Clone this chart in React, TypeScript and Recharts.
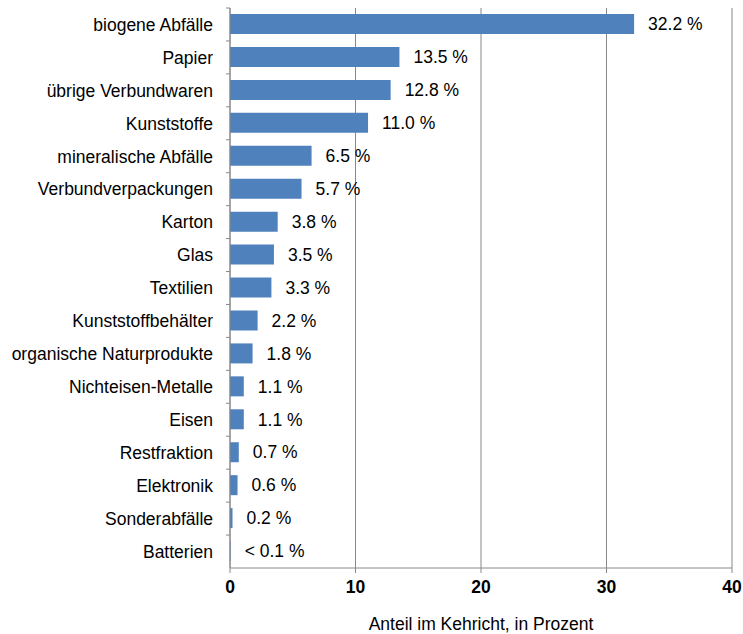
import React from 'react';
import {
  BarChart,
  Bar,
  XAxis,
  YAxis,
  CartesianGrid,
  LabelList,
} from 'recharts';

const categories = [
  'biogene Abfälle',
  'Papier',
  'übrige Verbundwaren',
  'Kunststoffe',
  'mineralische Abfälle',
  'Verbundverpackungen',
  'Karton',
  'Glas',
  'Textilien',
  'Kunststoffbehälter',
  'organische Naturprodukte',
  'Nichteisen-Metalle',
  'Eisen',
  'Restfraktion',
  'Elektronik',
  'Sonderabfälle',
  'Batterien',
];

const shares = [32.2, 13.5, 12.8, 11.0, 6.5, 5.7, 3.8, 3.5, 3.3, 2.2, 1.8, 1.1, 1.1, 0.7, 0.6, 0.2, 0.05];

const valueLabels = [
  '32.2 %', '13.5 %', '12.8 %', '11.0 %', '6.5 %', '5.7 %', '3.8 %', '3.5 %', '3.3 %',
  '2.2 %', '1.8 %', '1.1 %', '1.1 %', '0.7 %', '0.6 %', '0.2 %', '< 0.1 %',
];

const xTicks = [0, 10, 20, 30, 40];

const data = categories.map((name, i) => ({ name, value: shares[i], label: valueLabels[i] }));

const FONT = '"Liberation Sans", Arial, Helvetica, sans-serif';
const FS = 17.5;
const AXIS = '#888888';
const TOP = 8;
const BOTTOM = 66;
const HEIGHT = 634;
const BAND = (HEIGHT - TOP - BOTTOM) / categories.length;

// category label plus a tick mark on the band boundary above it
const CategoryTick = (props: any) => {
  const { x, y, payload } = props;
  return (
    <g>
      <line x1={x - 4} x2={x} y1={y - BAND / 2} y2={y - BAND / 2} stroke={AXIS} />
      <text x={x - 17} y={y} dy="0.36em" textAnchor="end" fill="#000" fontSize={FS} fontFamily={FONT}>
        {payload.value}
      </text>
    </g>
  );
};

export default function App() {
  return (
    <div style={{ position: 'absolute', left: 0, top: 0, background: '#fff' }}>
      <BarChart
        width={743}
        height={HEIGHT}
        data={data}
        layout="vertical"
        margin={{ top: TOP, right: 11, left: 0, bottom: 0 }}
        barSize={20}
      >
        <CartesianGrid horizontal={false} stroke={AXIS} strokeWidth={1} />
        <XAxis
          type="number"
          domain={[0, 40]}
          ticks={xTicks}
          axisLine={{ stroke: AXIS }}
          tickLine={{ stroke: AXIS }}
          tickSize={5}
          tickMargin={8}
          height={BOTTOM}
          tick={{ fill: '#000', fontSize: FS, fontWeight: 'bold', fontFamily: FONT }}
          label={{
            value: 'Anteil im Kehricht, in Prozent',
            position: 'insideBottom',
            offset: 4,
            fill: '#000',
            fontSize: FS,
            fontFamily: FONT,
          }}
        />
        <YAxis
          type="category"
          dataKey="name"
          width={230}
          axisLine={{ stroke: AXIS }}
          tickLine={false}
          tickSize={0}
          tickMargin={0}
          interval={0}
          tick={<CategoryTick />}
        />
        <Bar dataKey="value" fill="#4F81BD" isAnimationActive={false}>
          <LabelList
            dataKey="label"
            position="right"
            offset={14}
            fill="#000"
            fontSize={FS}
            fontFamily={FONT}
          />
        </Bar>
      </BarChart>
    </div>
  );
}
